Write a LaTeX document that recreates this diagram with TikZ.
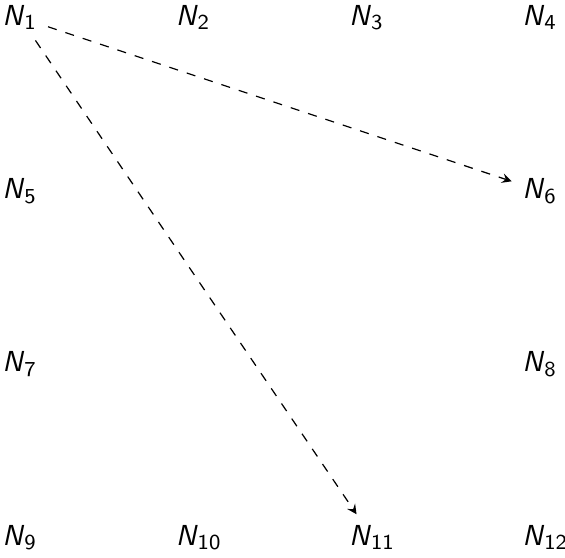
\documentclass[tikz,border=0pt]{standalone}
\usetikzlibrary{arrows}

\newcommand{\nlab}[1]{\textsf{\textit{N}}$_{\mathsf{#1}}$}

\begin{document}
\begin{tikzpicture}[
    font=\fontsize{9.5}{11}\selectfont,
    >=stealth,
    nodo/.style={
        anchor=base west
    },
    enlace/.style={
        ->,
        dashed
    }
]
    \useasboundingbox (0.096,0.29) rectangle (6.616,-6.14);

    \node[nodo] (n1) at (0,0) {\nlab{1}};
    \node[nodo] (n2) at (2,0) {\nlab{2}};
    \node[nodo] (n3) at (4,0) {\nlab{3}};
    \node[nodo] (n4) at (6,0) {\nlab{4}};

    \node[nodo] (n5) at (0,-2) {\nlab{5}};
    \node[nodo] (n6) at (6,-2) {\nlab{6}};

    \node[nodo] (n7) at (0,-4) {\nlab{7}};
    \node[nodo] (n8) at (6,-4) {\nlab{8}};

    \node[nodo] (n9) at (0,-6) {\nlab{9}};
    \node[nodo] (n10) at (2,-6) {\nlab{10}};
    \node[nodo] (n11) at (4,-6) {\nlab{11}};
    \node[nodo] (n12) at (6,-6) {\nlab{12}};

    \draw[enlace] (n1) -- (n6);
    \draw[enlace] (n1) -- (n11);
\end{tikzpicture}
\end{document}
